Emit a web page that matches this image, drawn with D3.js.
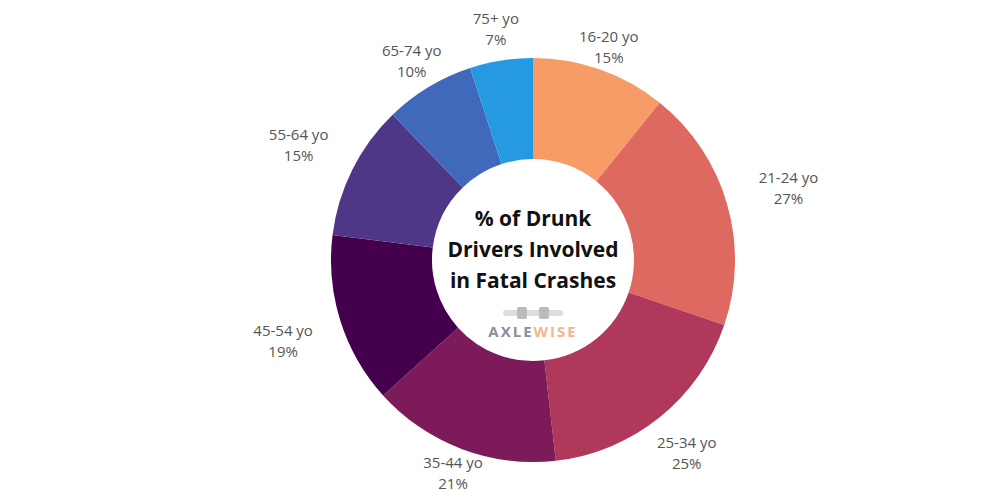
<!DOCTYPE html>
<html><head><meta charset="UTF-8">
<script src="https://cdn.jsdelivr.net/npm/d3@7"></script>
<style>body{margin:0;background:#fff}</style></head>
<body>
<script>
var categories = ["16-20 yo","21-24 yo","25-34 yo","35-44 yo","45-54 yo","55-64 yo","65-74 yo","75+ yo"];
var values = [15,27,25,21,19,15,10,7];
var colors = ["#F79C66","#DE6961","#B0395B","#7D1A5A","#45004D","#4E3787","#4068BB","#2699E3"];
var labelRadius = [228,266,245,226,262,262,235,236];

var width = 1000, height = 500, cx = 533, cy = 260;
var svg = d3.select('body').append('svg').attr('width',width).attr('height',height)
    .style('font-family','"Open Sans", sans-serif');
var g = svg.append('g').attr('transform','translate('+cx+','+cy+')');

var pie = d3.pie().sort(null).value(function(d){ return d; });
var arcs = pie(values);
var arc = d3.arc().innerRadius(101).outerRadius(202);

g.selectAll('path').data(arcs).enter().append('path')
    .attr('d',arc).attr('fill',function(d,i){ return colors[i]; });

var lab = g.selectAll('text.lab').data(arcs).enter().append('text')
    .attr('class','lab').attr('text-anchor','middle').attr('fill','#555').style('font-size','15px')
    .attr('transform',function(d,i){
        var a = (d.startAngle+d.endAngle)/2, r = labelRadius[i];
        return 'translate('+(r*Math.sin(a))+','+(-r*Math.cos(a))+')';
    });
lab.append('tspan').attr('x',0).attr('dy','-0.2em').text(function(d,i){ return categories[i]; });
lab.append('tspan').attr('x',0).attr('dy','1.4em').text(function(d,i){ return values[i]+'%'; });

var title = ["% of Drunk","Drivers Involved","in Fatal Crashes"];
g.selectAll('text.title').data(title).enter().append('text').attr('class','title')
    .attr('text-anchor','middle').attr('x',0).attr('y',function(d,i){ return -34+i*31; })
    .style('font-size','21px').style('font-weight','bold').attr('fill','#111').text(function(d){ return d; });

// logo
var logo = g.append('g').attr('transform','translate(0,55)');
logo.append('rect').attr('x',-30).attr('y',-5).attr('width',60).attr('height',6).attr('rx',3).attr('fill','#ddd');
logo.append('rect').attr('x',-16).attr('y',-8).attr('width',10).attr('height',12).attr('rx',2).attr('fill','#bbb');
logo.append('rect').attr('x',6).attr('y',-8).attr('width',10).attr('height',12).attr('rx',2).attr('fill','#bbb');
var lt = logo.append('text').attr('text-anchor','middle').attr('y',22)
    .style('font-size','15px').style('font-weight','bold').style('letter-spacing','2px');
lt.append('tspan').attr('fill','#8a8f9c').text('AXLE');
lt.append('tspan').attr('fill','#f4b58c').text('WISE');
</script>
</body></html>
